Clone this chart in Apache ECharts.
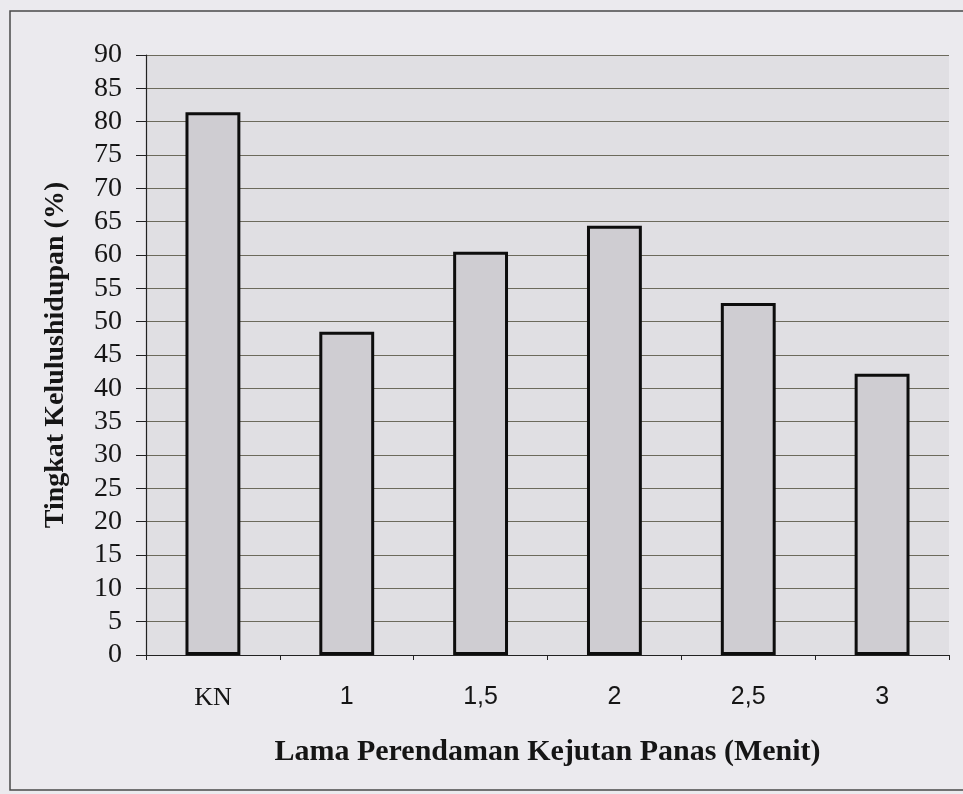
<!DOCTYPE html>
<html>
<head>
<meta charset="utf-8">
<script src="https://cdn.jsdelivr.net/npm/echarts@6/dist/echarts.min.js"></script>
<style>
  html, body { margin: 0; padding: 0; background: #ebeaee; }
  #chart { width: 963px; height: 794px; }
</style>
</head>
<body>
<div id="chart"></div>
<script>
// Survival rate per heat-shock soaking duration
const categories = ['KN', '1', '1,5', '2', '2,5', '3'];
const survival = [81.4, 48.5, 60.5, 64.4, 52.8, 42.2];
const yTicks = { min: 0, max: 90, interval: 5 };

const chart = echarts.init(document.getElementById('chart'));
chart.setOption({
  backgroundColor: '#ebeaee',
  animation: false,
  graphic: [{
    type: 'rect',
    shape: { x: 10, y: 11, width: 960, height: 779 },
    style: { fill: 'none', stroke: '#4a4a4a', lineWidth: 1.5 },
    z: -1
  }],
  grid: {
    left: 146, right: 14, top: 55, bottom: 139,
    show: true, backgroundColor: '#e0dfe3', borderWidth: 0
  },
  xAxis: {
    type: 'category',
    data: categories,
    name: 'Lama Perendaman Kejutan Panas (Menit)',
    nameLocation: 'middle',
    nameGap: 82,
    nameTextStyle: { fontFamily: 'Liberation Serif', fontWeight: 'bold', fontSize: 30, color: '#151515', letterSpacing: 0.9 },
    axisLine: { lineStyle: { color: '#222', width: 1.2 } },
    axisTick: { show: true, interval: 0, length: 5, lineStyle: { color: '#222' } },
    axisLabel: {
      interval: 0, margin: 30, fontSize: 25, color: '#151515',
      fontFamily: 'Liberation Sans',
      formatter: v => v === 'KN' ? '{serif|KN}' : v,
      rich: { serif: { fontFamily: 'Liberation Serif', fontSize: 26, color: '#151515' } }
    }
  },
  yAxis: {
    type: 'value',
    min: yTicks.min, max: yTicks.max, interval: yTicks.interval,
    name: 'Tingkat Kelulushidupan (%)',
    nameLocation: 'middle',
    nameGap: 76,
    nameTextStyle: { fontFamily: 'Liberation Serif', fontWeight: 'bold', fontSize: 28, color: '#151515' },
    axisLine: { show: true, lineStyle: { color: '#222', width: 1.2 } },
    axisTick: { show: true, length: 10, lineStyle: { color: '#222' } },
    axisLabel: { margin: 24, fontSize: 28, fontFamily: 'Liberation Serif', color: '#151515' },
    splitLine: { show: true, lineStyle: { color: '#6c6a5c', width: 1.2 } }
  },
  series: [{
    type: 'bar',
    data: survival,
    barWidth: '41%',
    itemStyle: { color: '#cfcdd2', borderColor: '#0d0d0d', borderWidth: 3 }
  }]
});
</script>
</body>
</html>
